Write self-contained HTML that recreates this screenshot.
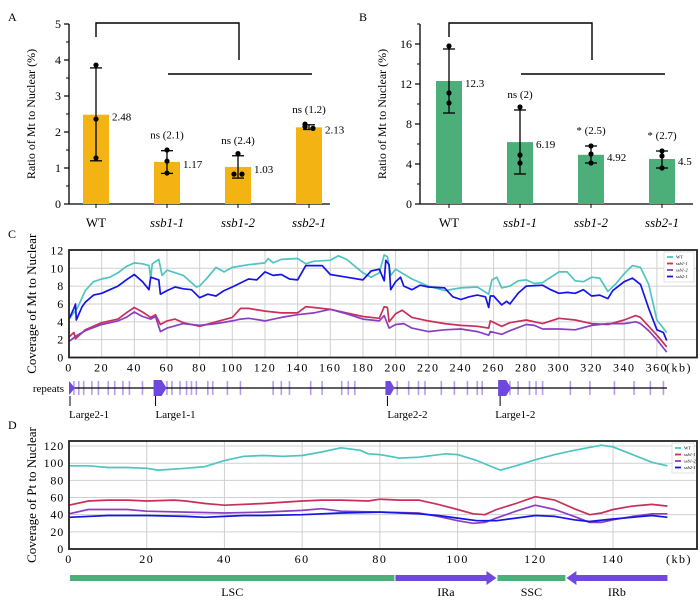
<!DOCTYPE html>
<html><head><meta charset="utf-8"><style>
html,body{margin:0;padding:0;background:#fff;}
svg{display:block;font-family:"Liberation Serif",serif;}
</style></head><body>
<svg id="fig" width="700" height="602" viewBox="0 0 700 602" xmlns="http://www.w3.org/2000/svg"></svg>
<script>
// ---------- Panel A / B data ----------
const barCats = ["WT","ssb1-1","ssb1-2","ssb2-1"];
const aMeans = [2.48,1.17,1.03,2.13];
const aLow = [1.2,0.85,0.72,2.07];
const aHigh = [3.78,1.48,1.34,2.2];
const aPts = [[3.86,2.36,1.28],[1.5,1.19,0.86],[1.4,0.83,0.83],[2.22,2.1,2.15]];
const aNotes = ["","ns (2.1)","ns (2.4)","ns (1.2)"];
const aTicks = [0,1,2,3,4,5];
const bMeans = [12.3,6.19,4.92,4.5];
const bLow = [9.1,3.0,4.1,3.6];
const bHigh = [15.5,9.4,5.8,5.3];
const bPts = [[15.8,11.1,10.1],[9.7,4.9,4.1],[5.8,5.0,4.1],[5.3,4.8,3.6]];
const bNotes = ["","ns (2)","* (2.5)","* (2.7)"];
const bTicks = [0,4,8,12,16];
// ---------- Panel C data (kb, value) ----------
const cTicks = [0,20,40,60,80,100,120,140,160,180,200,220,240,260,280,300,320,340,360];
const cYTicks = [0,2,4,6,8,10,12];
const cWT = [[0,4.3],[5,5.5],[10,7.5],[15,8.5],[20,8.8],[25,9],[30,9.5],[35,10.2],[40,10.6],[45,10.5],[49,10.3],[50,8.9],[51,10.5],[55,11],[57,9.2],[60,9.8],[70,9.2],[78,7.9],[80,8],[85,9],[90,10.1],[95,9.6],[100,10.1],[110,10.4],[120,10.6],[122,11.1],[125,10.6],[130,11],[140,11.1],[145,10.5],[150,10.8],[160,10.9],[165,11.4],[170,11],[180,9.5],[185,9],[190,9.5],[193,11.5],[195,11.3],[197,9.2],[200,9.9],[210,8.8],[220,8],[230,7.5],[240,7.8],[250,7.9],[257,7.1],[259,8.7],[262,9],[265,7.8],[270,8],[275,8.6],[280,8.7],[285,8.3],[290,8.4],[300,9.6],[305,9.6],[310,8.6],[315,8.5],[320,9],[325,8.9],[330,7.4],[335,8.3],[340,9.4],[345,10.3],[350,10.1],[355,8.2],[360,4.2],[366,2.8]];
const cS21 = [[0,4.3],[3,5.5],[4,6],[4.5,4.2],[8,5.7],[10,6.2],[15,7],[20,7.2],[25,7.6],[30,8],[35,8.7],[40,9.3],[45,8.5],[49,7.6],[50,9],[55,8.7],[56,7.1],[60,7.5],[65,7.9],[70,7.7],[75,7.6],[80,6.7],[85,7.1],[90,6.9],[95,7.5],[100,7.9],[110,8.8],[115,8.7],[120,9.6],[125,9.2],[130,9.3],[135,8.8],[140,8.7],[145,10.3],[150,10.3],[155,10.3],[160,9.3],[170,9],[180,8.7],[185,9.7],[190,9.9],[193,8.6],[194,10.9],[196,10.4],[197,7.6],[200,8.5],[203,9],[205,8],[210,7.6],[215,8.1],[220,7.9],[230,7.8],[235,6.8],[240,6.5],[245,6.8],[250,7],[255,6.8],[257,5.6],[258,6.9],[260,6.9],[265,5.9],[268,6.3],[270,6],[275,7.2],[280,8],[290,8.1],[295,7.6],[300,7.2],[305,7.3],[310,7.2],[315,7.6],[320,6.9],[325,7],[330,6.6],[333,7.5],[340,8.5],[345,8.9],[350,8.2],[355,5.5],[360,3.1],[364,2.8],[366,1.9]];
const cS11 = [[0,2.3],[3,2.8],[4,2.1],[10,3.1],[20,3.9],[30,4.3],[35,5],[40,5.6],[45,5.1],[50,4.5],[53,4.8],[56,3.7],[60,4.1],[65,4.3],[70,3.9],[80,3.5],[90,4],[100,4.5],[105,5.5],[110,5.5],[120,5.2],[130,5],[140,5],[145,5.7],[150,5.6],[160,5.4],[170,5],[180,4.6],[190,4.4],[193,5.7],[195,5.6],[196,4],[200,4.9],[204,5.3],[210,4.5],[220,4.1],[230,3.8],[240,3.6],[250,3.5],[257,3.3],[258,4.1],[265,3.5],[270,3.9],[280,4.2],[290,3.8],[300,4.4],[310,4.2],[320,3.8],[330,3.7],[340,4.2],[347,4.7],[350,4.5],[355,3.5],[360,2.5],[366,1.2]];
const cS12 = [[0,1.8],[5,2.5],[10,3],[20,3.7],[30,4.1],[35,4.5],[40,5.1],[45,4.6],[50,4.3],[53,4.6],[56,2.9],[60,3.3],[70,3.8],[80,3.6],[90,3.8],[100,4.1],[105,4.3],[110,4.4],[120,4.1],[130,4.5],[140,4.8],[150,5],[160,5.4],[170,4.9],[180,4.3],[190,4.1],[193,4.7],[196,3.3],[200,3.7],[205,3.8],[210,3.3],[220,2.9],[230,3.1],[240,3.2],[250,2.9],[257,2.5],[258,2.9],[265,2.6],[270,3],[280,3.7],[285,3.6],[290,3.2],[300,3.2],[310,3.1],[320,3.6],[330,3.8],[340,3.8],[347,4],[350,3.8],[355,3],[360,2],[366,0.6]];
const repeatsKb = [3,6,9,14,18,24,28,33,37,45,60,63,68,72,75,78,85,88,97,105,125,130,135,148,155,167,171,175,201,208,214,218,228,236,244,250,253,266,270,275,282,286,290,307,319,334,346,356,364];
const bigRepeats = [[0,"tri"],[53,"big"],[195,"mid"],[264,"big"]];
const repLabels = [["Large2-1",0],["Large1-1",53],["Large2-2",195],["Large1-2",261]];
// ---------- Panel D data ----------
const dTicks = [0,20,40,60,80,100,120,140];
const dYTicks = [0,20,40,60,80,100,120];
const dWT = [[0,97],[5,97],[10,95],[15,95],[20,94],[23,92],[30,94],[35,96],[40,103],[45,108],[50,109],[55,108],[60,109],[65,113],[70,118],[75,115],[77,111],[80,110],[85,106],[90,107],[97,111],[100,110],[105,103],[111,92],[115,97],[120,104],[125,110],[130,115],[137,121],[140,119],[145,110],[150,101],[154,97]];
const dS11 = [[0,51],[5,56],[10,57],[15,57],[20,56],[27,57],[30,56],[35,53],[40,51],[50,53],[60,56],[65,57],[70,57],[77,56],[80,58],[85,57],[90,57],[95,52],[100,46],[104,41],[107,40],[110,46],[115,53],[120,61],[125,57],[130,47],[134,40],[137,42],[140,46],[145,50],[150,52],[154,50]];
const dS12 = [[0,41],[5,46],[10,46],[15,46],[20,44],[30,43],[40,42],[50,43],[60,45],[65,47],[70,44],[80,43],[90,42],[95,38],[100,33],[104,30],[107,31],[110,36],[115,44],[120,51],[125,46],[130,38],[134,31],[137,31],[140,34],[145,38],[150,41],[154,41]];
const dS21 = [[0,37],[10,39],[20,39],[30,38],[35,37],[40,38],[45,39],[50,39],[60,40],[70,42],[80,43],[90,41],[95,39],[100,36],[105,33],[110,33],[115,36],[120,39],[125,38],[130,34],[134,32],[140,35],[145,37],[150,39],[154,37]];
const regions = [["LSC",0,84,"bar"],["IRa",84,110,"right"],["SSC",110,128,"bar"],["IRb",128,154,"left"]];
const seriesNames = ["WT","ssb1-1","ssb1-2","ssb2-1"];

const COL = {WT:"#4fc4c0", s11:"#c8305a", s12:"#8a3fc0", s21:"#1515e8"};
const svg = document.getElementById('fig');
const NS = "http://www.w3.org/2000/svg";
function mk(tag, attrs, parent, text){
  const e = document.createElementNS(NS, tag);
  for (const k in attrs) e.setAttribute(k, attrs[k]);
  if (text !== undefined) e.textContent = text;
  (parent || svg).appendChild(e);
  return e;
}
function txt(x,y,s,size,anchor,parent,extra){
  const a = {x:x,y:y,'font-size':size,'text-anchor':anchor||'start',fill:'#000'};
  if (extra) for (const k in extra) a[k]=extra[k];
  return mk('text',a,parent,s);
}

// ---------- Bar panels ----------
function barPanel(opt){
  const g = mk('g',{});
  
  
  const y = v => opt.y0 - v*opt.k;
  const x = i => opt.cx0 + i*71;
  // axes
  mk('line',{x1:opt.ax,y1:24,x2:opt.ax,y2:opt.y0,stroke:'#000','stroke-width':1.3},g);
  mk('line',{x1:opt.ax,y1:opt.y0,x2:opt.axEnd,y2:opt.y0,stroke:'#000','stroke-width':1.3},g);
  opt.ticks.forEach(t=>{
    mk('line',{x1:opt.ax-5,y1:y(t),x2:opt.ax,y2:y(t),stroke:'#000','stroke-width':1.2},g);
    const tl = txt(opt.ax-8,y(t)+4,String(t),12,'end',g);
    
    
  });
  opt.minor.forEach(t=>{ mk('line',{x1:opt.ax-3,y1:y(t),x2:opt.ax,y2:y(t),stroke:'#000','stroke-width':1},g); });
  const yt = txt(0,0,"Ratio of Mt to Nuclear (%)",12,'middle',g,{transform:`translate(${opt.ax-34},114) rotate(-90)`});
  
  
  txt(opt.ax-61,21,opt.letter,12,'start',g);
  barCats.forEach((c,i)=>{
    const cx = x(i);
    const b = mk('rect',{x:cx-13,y:y(opt.means[i]),width:26,height:opt.y0-y(opt.means[i]),fill:opt.color},g);
    
    
    mk('line',{x1:cx,y1:opt.y0,x2:cx,y2:opt.y0+4,stroke:'#000'},g);
    // error bar
    mk('line',{x1:cx,y1:y(opt.low[i]),x2:cx,y2:y(opt.high[i]),stroke:'#000','stroke-width':1.3},g);
    [opt.low[i],opt.high[i]].forEach(v=>mk('line',{x1:cx-6,y1:y(v),x2:cx+6,y2:y(v),stroke:'#000','stroke-width':1.3},g));
    const pts = opt.pts[i];
    pts.forEach((v,j)=>{
      let dx = 0;
      if (Math.abs(pts[(j+1)%3]-v)<0.08 || Math.abs(pts[(j+2)%3]-v)<0.08) dx = (j%2?4:-4);
      const p = mk('circle',{cx:cx+dx,cy:y(v),r:2.6,fill:'#000'},g);
      
      
    });
    const vl = txt(cx+16,y(opt.means[i])+6,String(opt.means[i]),11,'start',g);
    
    
    if (opt.notes[i]) txt(cx,y(opt.high[i])-12,opt.notes[i],11,'middle',g);
    const cl = txt(cx,227,c,13,'middle',g,c==='WT'?{}:{'font-style':'italic'});
    
    
  });
  // brackets
  const bx = x(0), bx2 = x(2)+1;
  mk('polyline',{points:`${bx},37 ${bx},23 ${bx2},23 ${bx2},60`,fill:'none',stroke:'#000','stroke-width':1.4},g);
  mk('line',{x1:x(1)+1,y1:74,x2:x(3)+3,y2:74,stroke:'#000','stroke-width':1.4},g);
}
barPanel({name:'panel-a',letter:'A',ax:69,axEnd:330,y0:204,k:36,cx0:96,color:'#f3b312',means:aMeans,low:aLow,high:aHigh,pts:aPts,notes:aNotes,ticks:aTicks,minor:[0.5,1.5,2.5,3.5,4.5]});
barPanel({name:'panel-b',letter:'B',ax:420,axEnd:693,y0:204,k:10,cx0:449,color:'#4caf7a',means:bMeans,low:bLow,high:bHigh,pts:bPts,notes:bNotes,ticks:bTicks,minor:[2,6,10,14,18]});

// ---------- Line panels ----------
function linePanel(opt){
  const g = mk('g',{});
  
  
  const X = v => opt.x0 + v*opt.kx;
  const Y = v => opt.y0 - v*opt.ky;
  opt.xt.forEach(t=>{
    if (t>0) mk('line',{x1:X(t),y1:opt.top,x2:X(t),y2:opt.y0,stroke:'#d0d0d0','stroke-width':1},g);
    const l = txt(X(t),opt.y0+14,String(t),12,'middle',g,{'letter-spacing':'1.5'});
    
    
  });
  opt.yt.forEach(t=>{
    if (t>0 && Y(t)>opt.top+1) mk('line',{x1:opt.x0,y1:Y(t),x2:opt.right,y2:Y(t),stroke:'#d0d0d0','stroke-width':1},g);
    const l = txt(opt.x0-5,Y(t)+4,String(t),12,'end',g,{'letter-spacing':'0.8'});
    
    
  });
  txt(opt.right-18,opt.y0+14,"(kb)",12,'middle',g,{'letter-spacing':'1.5'});
  const yt = txt(0,0,opt.ytitle,13,'middle',g,{transform:`translate(36,${(opt.top+opt.y0)/2}) rotate(-90)`});
  
  
  txt(8,opt.top-12,opt.letter,12,'start',g);
  const cols=[COL.WT,COL.s11,COL.s12,COL.s21];
  opt.series.forEach((s,i)=>{
    const d = s.map((p,j)=>(j?'L':'M')+X(p[0]).toFixed(1)+' '+Y(p[1]).toFixed(1)).join(' ');
    const pth = mk('path',{d:d,fill:'none',stroke:cols[i],'stroke-width':1.7,'stroke-linejoin':'round'},g);
    
    
  });
  mk('rect',{x:opt.x0,y:opt.top,width:opt.right-opt.x0,height:opt.y0-opt.top,fill:'none',stroke:'#222','stroke-width':1.8},g);
  // legend
  const lg = mk('g',{},g);
  
  
  mk('rect',{x:opt.lx,y:opt.ly,width:opt.right-opt.lx-3,height:30,fill:'#fff',stroke:'#ccc','stroke-width':0.6},lg);
  seriesNames.forEach((n,i)=>{
    const e = mk('g',{},lg);
    
    
    mk('line',{x1:opt.lx+3,y1:opt.ly+5+i*6.5,x2:opt.lx+9,y2:opt.ly+5+i*6.5,stroke:cols[i],'stroke-width':1.8},e);
    txt(opt.lx+12,opt.ly+6.5+i*6.5,n,4.5,'start',e,i?{'font-style':'italic'}:{});
  });
}
linePanel({name:'panel-c',letter:'C',x0:69,kx:1.633,y0:357.5,ky:8.92,top:250,right:697,xt:cTicks,yt:cYTicks,series:[cWT,cS11,cS12,cS21],ytitle:'Coverage of Mt to Nuclear',lx:664,ly:252});
linePanel({name:'panel-d',letter:'D',x0:69,kx:3.886,y0:549,ky:0.858,top:441,right:697,xt:dTicks,yt:dYTicks,series:[dWT,dS11,dS12,dS21],ytitle:'Coverage of Pt to Nuclear',lx:672,ly:443});

// ---------- Repeats track ----------
(function(){
  const g = mk('g',{});
  
  
  const X = v => 69 + v*1.633, yc = 388;
  txt(64,yc+4,"repeats",11,'end',g);
  repeatsKb.forEach(k=>mk('rect',{x:X(k)-0.8,y:yc-7,width:1.6,height:14,fill:'#b89cf2'},g));
  mk('line',{x1:69,y1:yc,x2:667,y2:yc,stroke:'#000','stroke-width':1.3},g);
  bigRepeats.forEach(([k,t])=>{
    const x=X(k);
    let pts;
    if (t==='tri') pts=`${x},${yc-7} ${x+6},${yc} ${x},${yc+7}`;
    else if (t==='big') pts=`${x-2},${yc-8} ${x+6},${yc-8} ${x+11},${yc} ${x+6},${yc+8} ${x-2},${yc+8}`;
    else pts=`${x-2},${yc-7} ${x+3},${yc-7} ${x+7},${yc} ${x+3},${yc+7} ${x-2},${yc+7}`;
    const p = mk('polygon',{points:pts,fill:'#7048e0'},g);
    
    
  });
  repLabels.forEach(([n,k],i)=>{
    const tx = X(bigRepeats[i][0])+(i===0?1:0);
    mk('line',{x1:tx,y1:yc+8,x2:tx,y2:yc+18,stroke:'#000','stroke-width':1},g);
    const l = txt(X(k),yc+30,n,11,'start',g);
    
    
  });
  // Region bar D
  const r = mk('g',{});
  
  
  const XD = v => 69 + v*3.886, yb = 578;
  regions.forEach(([n,a,b,t])=>{
    const x1=XD(a), x2=XD(b);
    let el;
    if (t==='bar') el = mk('rect',{x:x1+1,y:yb-3,width:x2-x1-2,height:6,fill:'#4caf7a'},r);
    else if (t==='right') el = mk('polygon',{points:`${x1},${yb-3} ${x2-10},${yb-3} ${x2-10},${yb-7} ${x2},${yb} ${x2-10},${yb+7} ${x2-10},${yb+3} ${x1},${yb+3}`,fill:'#7048e0'},r);
    else el = mk('polygon',{points:`${x2},${yb-3} ${x1+10},${yb-3} ${x1+10},${yb-7} ${x1},${yb} ${x1+10},${yb+7} ${x1+10},${yb+3} ${x2},${yb+3}`,fill:'#7048e0'},r);
    
    
    txt((x1+x2)/2+(n==='LSC'?0:0),yb+18,n,12,'middle',r);
  });
})();
</script>
</body></html>
